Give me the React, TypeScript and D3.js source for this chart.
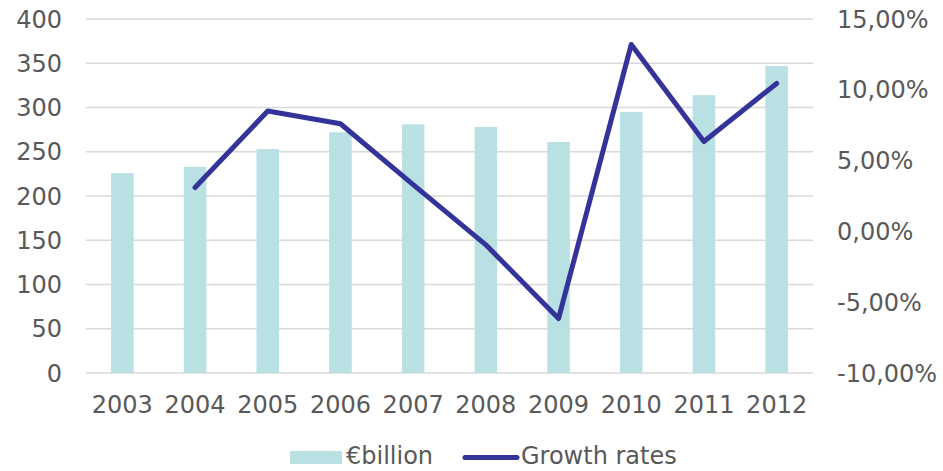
import React from "react";
import * as d3 from "d3";

const years = ["2003", "2004", "2005", "2006", "2007", "2008", "2009", "2010", "2011", "2012"];
const billions = [226, 233, 253, 272, 281, 278, 261, 295, 314, 347];
const growth: (number | null)[] = [null, 3.1, 8.5, 7.6, 3.3, -0.95, -6.15, 13.2, 6.35, 10.45];
const leftTicks = [0, 50, 100, 150, 200, 250, 300, 350, 400];
const rightTicks = [-10, -5, 0, 5, 10, 15];

const W = 943;
const H = 471;
const M = { left: 86, right: 813, top: 19, bottom: 373 };
const FONT = "'DejaVu Sans', Verdana, sans-serif";
const FS = 24;
const TXT = "#595959";
const BAR = "#B9E0E3";
const LINE = "#333399";

export default function App() {
  const x = d3.scaleBand<string>().domain(years).range([M.left, M.right]).paddingInner(0).paddingOuter(0);
  const yL = d3.scaleLinear().domain([0, 400]).range([M.bottom, M.top]);
  const yR = d3.scaleLinear().domain([-10, 15]).range([M.bottom, M.top]);
  const bw = x.bandwidth() * 0.31;
  const cx = (y: string) => (x(y) as number) + x.bandwidth() / 2;

  const pts = years
    .map((y, i) => ({ y, v: growth[i] }))
    .filter((d) => d.v !== null) as { y: string; v: number }[];
  const line = d3
    .line<{ y: string; v: number }>()
    .x((d) => cx(d.y))
    .y((d) => yR(d.v));

  const fmt = (v: number) => v.toFixed(2).replace(".", ",") + "%";

  return (
    <svg width={W} height={H} style={{ position: "absolute", left: 0, top: 0, display: "block" }}>
      <rect width={W} height={H} fill="#fff" />
      {leftTicks.map((t) => (
        <line key={t} x1={M.left} x2={M.right} y1={yL(t)} y2={yL(t)} stroke="#D9D9D9" strokeWidth={1.5} />
      ))}
      {years.map((y, i) => (
        <rect
          key={y}
          x={cx(y) - bw / 2}
          y={yL(billions[i])}
          width={bw}
          height={yL(0) - yL(billions[i])}
          fill={BAR}
        />
      ))}
      <path d={line(pts) || ""} fill="none" stroke={LINE} strokeWidth={5} strokeLinejoin="round" strokeLinecap="round" />
      {leftTicks.map((t) => (
        <text key={t} x={62} y={yL(t)} dy="0.36em" textAnchor="end" fontFamily={FONT} fontSize={FS} fill={TXT}>
          {t}
        </text>
      ))}
      {rightTicks.map((t) => (
        <text key={t} x={837} y={yR(t)} dy="0.36em" textAnchor="start" fontFamily={FONT} fontSize={FS} fill={TXT}>
          {fmt(t)}
        </text>
      ))}
      {years.map((y) => (
        <text key={y} x={cx(y)} y={413} textAnchor="middle" fontFamily={FONT} fontSize={FS} fill={TXT}>
          {y}
        </text>
      ))}
      <rect x={290} y={451} width={52} height={13} fill={BAR} />
      <text x={346} y={464} fontFamily={FONT} fontSize={FS} fill={TXT}>
        €billion
      </text>
      <line x1={465} x2={517} y1={457.5} y2={457.5} stroke={LINE} strokeWidth={5} strokeLinecap="round" />
      <text x={521} y={464} fontFamily={FONT} fontSize={FS} fill={TXT}>
        Growth rates
      </text>
    </svg>
  );
}
